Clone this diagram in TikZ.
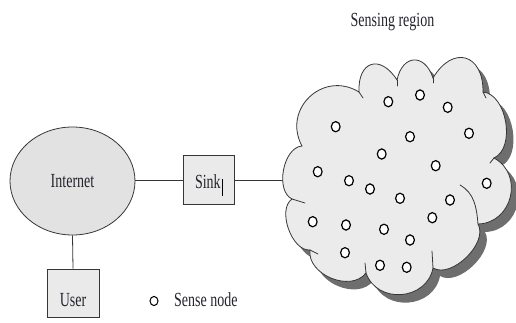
\documentclass[tikz,border=0pt]{standalone}
\usepackage{graphicx}
\usepackage{fontspec}
\setmainfont{Liberation Serif}
\usetikzlibrary{shapes.geometric}

\definecolor{edge}{HTML}{363636}
\definecolor{ink}{HTML}{24242E}
\definecolor{cloudfill}{HTML}{EBEBEC}
\definecolor{cloudshade}{HTML}{6E6E6E}
\definecolor{ovalfill}{HTML}{E2E2E2}
\definecolor{boxfill}{HTML}{EAEAEA}

% condensed serif lettering
\newcommand{\narrowtext}[1]{\scalebox{0.7}[1]{#1}}

% outline of the sensing-region cloud (cusp to cusp, each bump bulging outwards)
\newcommand{\cloudshape}{(292,-199) to[bump=0.9] (302,-146) to[bump=1.37] (359,-92)
  to[bump=2.0] (397,-80) to[bump=1.87] (433,-78) to[bump=1.9] (483,-92)
  to[bump=0.92] (494,-158) to[bump=1.3] (478,-224) to[bump=0.88] (433,-268)
  to[bump=1.27] (366,-273) to[bump=1.05] (310,-250) to[bump=0.87] (292,-199) -- cycle}

\begin{document}
\begin{tikzpicture}[x=1pt,y=1pt,
  bump/.style={bend left=75,looseness=#1},
  outline/.style={draw=edge,line width=0.8pt},
  wire/.style={draw=edge,line width=0.8pt},
  lettering/.style={text=ink,font=\fontsize{20}{24}\selectfont},
  boxnode/.style={outline,fill=boxfill,rectangle,inner sep=0pt,lettering},
  sensor/.style={ellipse,draw=black,fill=white,line width=1.2pt,inner sep=0pt,
    minimum width=8.8pt,minimum height=10.2pt},
]
\useasboundingbox (0,0) rectangle (516,-323);

% network side
\node[outline,fill=ovalfill,ellipse,inner sep=0pt,minimum width=125pt,minimum height=108pt,
  lettering,text height=12pt,text depth=0pt] (internet) at (72.5,-181) {\narrowtext{Internet}};
\node[boxnode,minimum width=51pt,minimum height=49pt,text height=16pt,text depth=0pt]
  (sink) at (208.7,-180) {\narrowtext{Sink}\hspace{1pt}\smash{\textcolor{black}{\rule[-8pt]{0.7pt}{17pt}}}};
\node[boxnode,minimum width=52pt,minimum height=48pt,text height=26pt,text depth=0pt]
  (user) at (73,-293) {\narrowtext{User}};

\coordinate (cloudport) at (285,-180);
\draw[wire] (internet.east |- sink.west) -- (sink.west);
\draw[wire] (sink.east) -- (cloudport);
\draw[wire] (internet.south) -- (user.north);

% sensing region: drop shadow, body, then the overlapping-bump strokes at the cusps
\fill[cloudshade,xshift=7pt,yshift=-8pt] \cloudshape;
\filldraw[outline,fill=cloudfill] \cloudshape;
\draw[outline,line cap=round] (292,-199) -- (305,-203);
\draw[outline,line cap=round] (359,-92) -- (363,-98);
\draw[outline,line cap=round] (397,-80) -- (397,-86);
\draw[outline,line cap=round] (433,-78) -- (433,-83);
\draw[outline,line cap=round] (483,-92) -- (486,-98);
\draw[outline,line cap=round] (494,-158) -- (490,-163);
\draw[outline,line cap=round] (460,-185) to[out=-30,in=95] (478,-224);
\draw[outline,line cap=round] (433,-268) -- (432,-251);
\draw[outline,line cap=round] (366,-273) -- (365,-263);
\draw[outline,line cap=round] (310,-250) -- (318,-254);

\node[lettering,anchor=base] (title) at (392.5,-26.5) {\narrowtext{Sensing region}};

% sense nodes
\foreach \n/\px/\py in {1/388.3/101.7, 2/420/95, 3/447.7/107.3, 4/335.7/126.7, 5/410/136.7,
    6/469/133.3, 7/381.7/154, 8/435.7/165.7, 9/317.7/171.7, 10/349/180.7, 11/370/189,
    12/400/198.3, 13/486.7/183.3, 14/450/200, 15/312.7/221.7, 16/346/225, 17/384/229.3,
    18/432.3/217.7, 19/410/240, 20/345/252.7, 21/380/265.3, 22/406.7/267.3}
  \node[sensor] (s\n) at (\px,-\py) {};

% legend
\node[sensor,line width=1pt,minimum width=8pt,minimum height=9.2pt] (legendmark) at (154,-301) {};
\node[lettering,anchor=base west,inner sep=0pt] (legendtext) at (174,-306) {\narrowtext{Sense node}};
\end{tikzpicture}
\end{document}
